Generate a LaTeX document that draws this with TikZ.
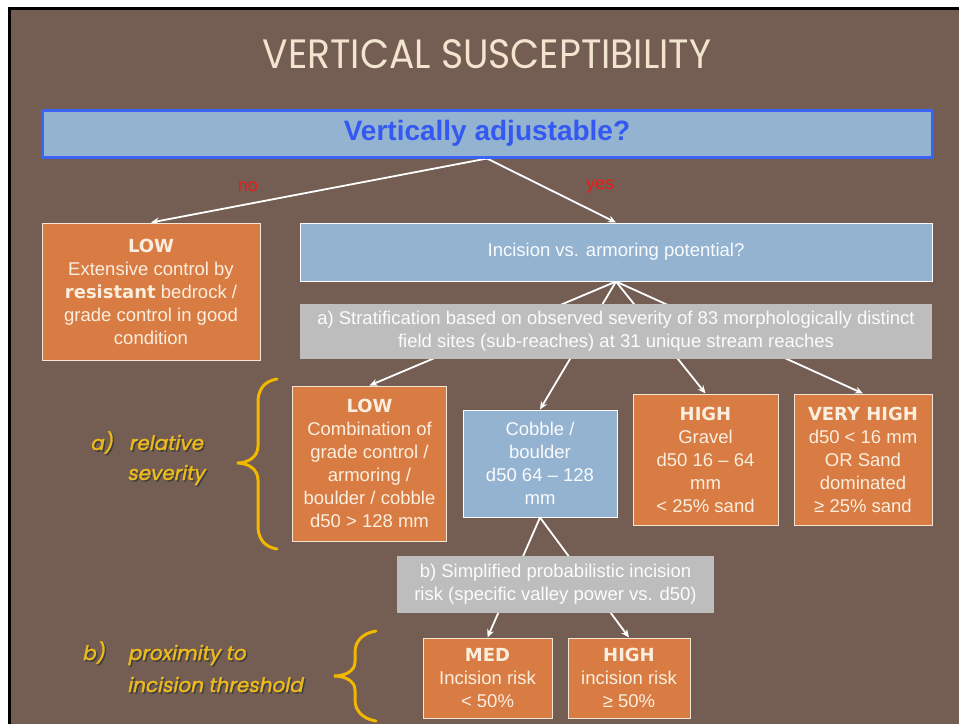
\documentclass[tikz,border=0pt]{standalone}
\usepackage{fontspec}
\setmainfont{Liberation Sans}
\newfontfamily\headfont{DejaVu Sans}
\newfontfamily\titlefont{Poppins}[FakeStretch=0.92]
\newfontfamily\labfont{Poppins}[FakeSlant=0.2,FakeBold=1.6]
\usetikzlibrary{arrows.meta}
\pgfdeclarelayer{back}
\pgfdeclarelayer{lines}
\pgfsetlayers{back,lines,main}
\definecolor{brownbg}{HTML}{745D53}
\definecolor{orng}{HTML}{D87C43}
\definecolor{lblue}{HTML}{93B3D1}
\definecolor{topedge}{HTML}{3A64F4}
\definecolor{toptxt}{HTML}{3458F2}
\definecolor{gry}{HTML}{BDBDBD}
\definecolor{cream}{HTML}{FBEEDF}
\definecolor{edgec}{HTML}{F3E6D6}
\definecolor{redtxt}{HTML}{EE1A14}
\definecolor{gold}{HTML}{F2B800}
\definecolor{labgold}{HTML}{EDBA1E}
\definecolor{titlec}{HTML}{F2E4CE}
\newcommand\hdb[1]{{\headfont\bfseries\fontsize{18}{23}\selectfont #1}}
\newcommand\shadowed[1]{\makebox[0pt][l]{\hspace{1.5pt}\raisebox{-1.5pt}{\textcolor{black!75}{#1}}}#1}
\tikzset{
  body/.style={rectangle, inner sep=0pt, align=center, font=\fontsize{18.5}{23}\selectfont},
  obox/.style={body, fill=orng, draw=edgec, line width=1pt, text=cream},
  bbox/.style={body, fill=lblue, draw=white, line width=1pt, text=white!95!lblue},
  gbox/.style={body, fill=gry, text=white!96!gry},
  conn/.style={draw=white, line width=1.8pt, -{Stealth[length=8pt,width=7pt]}},
  brace/.style={draw=gold, line width=3pt, line cap=round},
  lab/.style={anchor=base west, inner sep=0pt, text height=14pt, text depth=4pt, text=labgold, font=\labfont\fontsize{20}{24}\selectfont},
}
\begin{document}
\begin{tikzpicture}[x=1pt,y=-1pt]
\useasboundingbox (0,0) rectangle (959,724);
\begin{pgfonlayer}{back}
  \fill[white] (0,0) rectangle (959,724);
  \fill[black] (8,7) rectangle (959,724);
  \fill[brownbg] (11,10) rectangle (959,724);
\end{pgfonlayer}

% title
\node[anchor=base, inner sep=0pt, text=titlec, font=\titlefont\fontsize{41}{44}\selectfont] (title) at (487,68) {VERTICAL SUSCEPTIBILITY};

% top question
\node[rectangle, inner sep=0pt, minimum width=890pt, minimum height=47pt, fill=lblue, draw=topedge, line width=3pt, text=toptxt, font=\bfseries\fontsize{28}{30}\selectfont] (top) at (487,133.5) {Vertically adjustable?};

\node[text=redtxt, inner sep=0pt, font=\fontsize{18}{20}\selectfont] (no) at (248,187) {no};
\node[text=redtxt, inner sep=0pt, font=\fontsize{18}{20}\selectfont] (yes) at (600,187) {yes};

% level 1
\node[obox, minimum width=218pt, minimum height=137pt] (low1) at (151,291.5)
  {\hdb{LOW}\\Extensive control by\\\hdb{resistant} bedrock /\\grade control in good\\condition};
\node[bbox, minimum width=632pt, minimum height=58pt] (inc) at (616,252) {Incision vs. armoring potential?};
\node[gbox, minimum width=632pt, minimum height=55pt] (strat) at (616,331)
  {a) Stratification based on observed severity of 83 morphologically distinct\\field sites (sub-reaches) at 31 unique stream reaches};

% level 2
\node[obox, minimum width=154pt, minimum height=155pt] (low2) at (369.5,463.5)
  {\hdb{LOW}\\Combination of\\grade control /\\armoring /\\boulder / cobble\\d50 > 128 mm};
\node[bbox, minimum width=154pt, minimum height=107pt] (cob) at (540,463.5)
  {Cobble /\\boulder\\d50 64 – 128\\mm};
\node[obox, minimum width=145pt, minimum height=131pt] (high) at (705.5,459.5)
  {\hdb{HIGH}\\Gravel\\d50 16 – 64\\mm\\< 25\% sand};
\node[obox, minimum width=138pt, minimum height=131pt] (vhigh) at (863,459.5)
  {\hdb{VERY HIGH}\\d50 < 16 mm\\OR Sand\\dominated\\≥ 25\% sand};

% level 3
\node[gbox, minimum width=317pt, minimum height=57pt] (prob) at (555.5,584.5)
  {b) Simplified probabilistic incision\\risk (specific valley power vs. d50)};
\node[obox, minimum width=129pt, minimum height=80pt] (med) at (487.5,678)
  {\hdb{MED}\\Incision risk\\< 50\%};
\node[obox, minimum width=122pt, minimum height=80pt] (high2) at (629,678)
  {\hdb{HIGH}\\incision risk\\≥ 50\%};

% connectors
\begin{pgfonlayer}{lines}
  \draw[conn] (top.south) -- (low1.north);
  \draw[conn] (top.south) -- (inc.north);
  \draw[conn] (inc.south) -- (low2.north);
  \draw[conn] (inc.south) -- (cob.north);
  \draw[conn] (inc.south) -- (high.north);
  \draw[conn] (inc.south) -- (vhigh.north);
  \draw[conn] (cob.south) -- (med.north);
  \draw[conn] (cob.south) -- (high2.north);
\end{pgfonlayer}

% braces
\draw[brace] (277,379) .. controls (264,381) and (258,390) .. (258,402) -- (258,446)
  .. controls (258,457) and (248,463) .. (237,463)
  .. controls (248,463) and (258,469) .. (258,480) -- (258,526)
  .. controls (258,538) and (264,547) .. (277,549);
\draw[brace] (376,631) .. controls (363,633) and (355,641) .. (355,652) -- (355,662)
  .. controls (355,671) and (345,676) .. (334,676)
  .. controls (345,676) and (355,681) .. (355,690) -- (355,700)
  .. controls (355,711) and (363,719) .. (376,721);

% side labels
\node[lab] (la1) at (90,450) {\shadowed{a)}\hspace{16pt}\shadowed{relative}};
\node[lab] (la2) at (127,480) {\shadowed{severity}};
\node[lab] (lb1) at (82,660) {\shadowed{b)}\hspace{23pt}\shadowed{proximity to}};
\node[lab] (lb2) at (127,692) {\shadowed{incision threshold}};
\end{tikzpicture}
\end{document}
